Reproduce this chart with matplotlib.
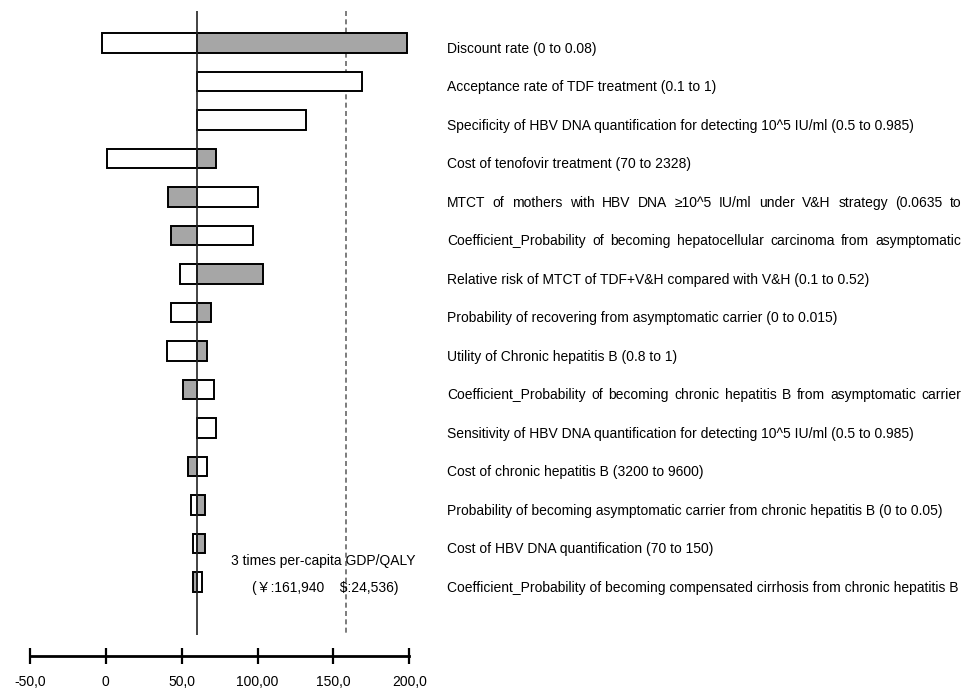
import numpy as np
import matplotlib.pyplot as plt

plt.rcParams['font.family'] = ['Liberation Sans', 'DejaVu Sans', 'Noto Sans CJK SC']

# one-way sensitivity analysis, ICER in thousand yuan/QALY
labels = [
    "Discount rate (0 to 0.08)",
    "Acceptance rate of TDF treatment (0.1 to 1)",
    "Specificity of HBV DNA quantification for detecting 10^5 IU/ml (0.5 to 0.985)",
    "Cost of tenofovir treatment (70 to 2328)",
    "MTCT of mothers with HBV DNA \u226510^5 IU/ml under V&H strategy (0.0635 to",
    "Coefficient_Probability of becoming hepatocellular carcinoma from asymptomatic",
    "Relative risk of MTCT of TDF+V&H compared with V&H (0.1 to 0.52)",
    "Probability of recovering from asymptomatic carrier (0 to 0.015)",
    "Utility of Chronic hepatitis B (0.8 to 1)",
    "Coefficient_Probability of becoming chronic hepatitis B from asymptomatic carrier",
    "Sensitivity of HBV DNA quantification for detecting 10^5 IU/ml (0.5 to 0.985)",
    "Cost of chronic hepatitis B (3200 to 9600)",
    "Probability of becoming asymptomatic carrier from chronic hepatitis B (0 to 0.05)",
    "Cost of HBV DNA quantification (70 to 150)",
    "Coefficient_Probability of becoming compensated cirrhosis from chronic hepatitis B",
]
white_vals = [-2.8, 168.8, 132.1, 0.6, 100.2, 97.3, 49.1, 43.0, 40.6, 71.2, 72.5, 66.6, 56.2, 57.1, 63.3]
grey_vals = [198.2, 60.0, 60.0, 72.5, 40.8, 43.0, 103.5, 69.4, 66.6, 50.9, 60.0, 54.0, 65.6, 65.6, 57.1]
base_icer = 60.0
threshold = 158.0
justified = [4, 5, 9]

xticks = [-50, 0, 50, 100, 150, 200]
xticklabels = ["-50,0", "0", "50,0", "100,00", "150,0", "200,0"]

fig = plt.figure(figsize=(9.73, 7.0), dpi=100)
ax = fig.add_axes([0, 0, 1, 1])
ax.set_xlim(-69.77, 571.5)
ax.set_ylim(17.065, -1.117)

y = np.arange(len(labels))
w = np.array(white_vals) - base_icer
g = np.array(grey_vals) - base_icer
ax.barh(y, w, left=base_icer, height=0.5, color='white', edgecolor='black', linewidth=1.4, zorder=2)
gm = g != 0
ax.barh(y[gm], g[gm], left=base_icer, height=0.5, color='#a6a6a6', edgecolor='black', linewidth=1.4, zorder=2)

ax.vlines(base_icer, -0.83, 15.38, color='#222222', lw=1.2, zorder=3)
ax.vlines(threshold, -0.83, 15.38, color='#666666', lw=1.2, linestyles=(0, (3, 2)), zorder=1)

# bottom axis
for s in ['top', 'right', 'left']:
    ax.spines[s].set_visible(False)
ax.spines['bottom'].set_position(('data', 15.92))
ax.spines['bottom'].set_bounds(-50, 200)
ax.spines['bottom'].set_linewidth(2.0)
ax.set_xticks(xticks)
ax.set_xticklabels(xticklabels, fontsize=10)
ax.tick_params(axis='x', direction='inout', length=12, width=1.6, pad=8)
ax.set_yticks([])

# labels on the right
label_x = 224.8
label_end = 564.0
fig.canvas.draw()
renderer = fig.canvas.get_renderer()
inv = ax.transData.inverted()
for i, lab in enumerate(labels):
    ly = i + 0.15
    if i in justified:
        words = lab.split(' ')
        ts = [ax.text(0, ly, wd, fontsize=10, va='center', ha='left') for wd in words]
        widths = [t.get_window_extent(renderer).width for t in ts]
        x0_px = ax.transData.transform((label_x, ly))[0]
        x1_px = ax.transData.transform((label_end, ly))[0]
        gap = (x1_px - x0_px - sum(widths)) / (len(words) - 1)
        cur = x0_px
        for t, wd in zip(ts, widths):
            t.set_x(inv.transform((cur, 0))[0])
            cur += wd + gap
    else:
        ax.text(label_x, ly, lab, fontsize=10, va='center', ha='left')

ax.text(143.1, 13.45, "3 times per-capita GDP/QALY", fontsize=10, ha='center', va='center')
ax.text(144.5, 14.16, "(\uffe5:161,940    $:24,536)", fontsize=10, ha='center', va='center')

fig.savefig('out.png', dpi=100)
